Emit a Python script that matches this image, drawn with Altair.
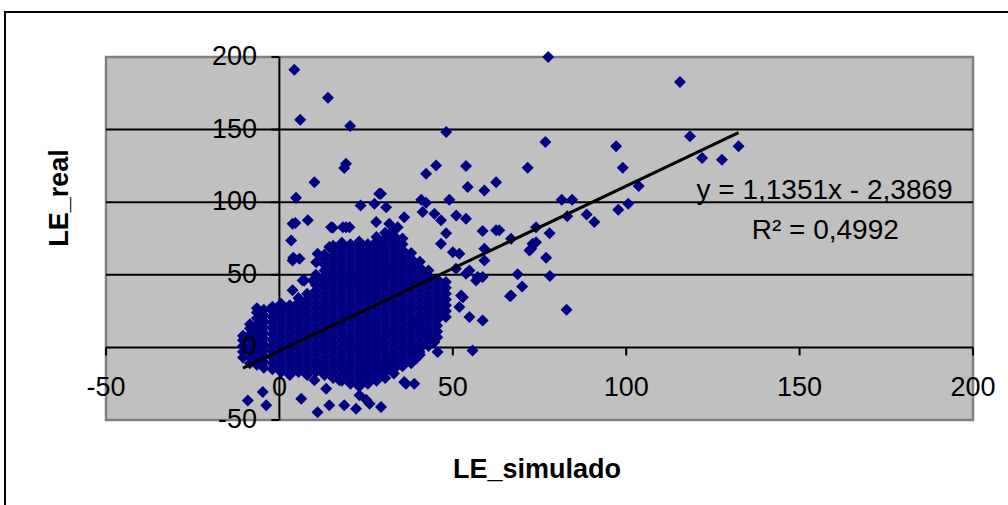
import altair as alt
import pandas as pd

# ---------------- data ----------------
# scattered points (outside the dense core)
outlier_x = [4.3, 14.0, 6.0, 20.4, 48.1, 77.5, 76.7, 19.2, 18.7, 10.1, 4.8, 42.3, 45.2, 53.8, 71.6,
             54.3, 59.1, 62.5, 49.0, 28.8, 30.8, 40.9, 42.3, 23.4, 27.4, 41.3, 44.7, 46.6, 51.0, 53.8,
             48.1, 58.6, 62.5, 4.6, 8.2, 15.4, 19.2, 27.9, 36.0, 34.1, 74.0,
             115.5, 118.4, 132.4, 121.9, 127.6, 97.1, 99.0, 103.6, 81.4, 84.4, 83.0, 88.6, 90.8, 97.7,
             100.6, 77.9, 66.8, 73.0, 72.1, 76.9, 68.7, 70.0, 78.0, 66.5, 82.8, 63.4,
             46.6, 50.0, 59.1, 59.1, 72.6, 74.0, 51.9, 54.8, 57.2, 58.6, 52.4, 52.9, 51.9, 47.6, 54.8,
             58.6, 44.7, 45.6, 55.7, 36.5, 38.9, 40.9, 39.4, 40.4, 39.4,
             -9.1, -3.8, -4.8, 6.3, 11.0, 10.1, 14.4, 18.7, 22.1, 26.0, 29.3, 23.1, 25.0, 13.5, 11.5,
             17.3, 36.0, 12.0, 18.7, 24.0, 27.9, 31.7,
             3.8, 5.8, 3.4, 3.8, 3.8, 6.7, 11.0, 10.6, 56.7, 53.8, 50.9, 66.8, 14.9, 18.3, 20.2, 29.3,
             31.7, 28.3, 9.6, 14.4, 4.0, 7.2]
outlier_y = [191.3, 172.0, 156.8, 152.4, 148.3, 200.0, 141.4, 126.5, 123.5, 113.8, 103.1, 119.6, 125.3, 124.9, 123.7,
             110.4, 108.1, 113.8, 101.7, 105.9, 96.6, 101.7, 99.6, 97.8, 99.0, 93.2, 92.1, 87.5, 90.9, 88.6,
             78.7, 80.1, 80.6, 85.6, 87.5, 82.4, 82.8, 86.3, 89.7, 82.8, 82.8,
             182.7, 145.5, 138.6, 130.4, 129.2, 138.6, 123.7, 111.1, 101.7, 101.7, 90.4, 91.6, 86.3, 94.8,
             99.0, 78.7, 74.9, 71.4, 66.8, 61.8, 50.3, 42.0, 49.1, 35.3, 26.0, 80.6,
             71.4, 65.6, 68.0, 59.9, 68.0, 72.5, 64.5, 53.0, 48.4, 48.4, 35.8, 34.6, 27.8, 24.3, 20.9,
             18.6, 3.7, -3.2, -2.1, -25.0, -25.0, 11.7, 16.3, -3.2, -7.8,
             -36.5, -39.9, -30.8, -35.3, -44.6, -22.7, -39.9, -39.9, -42.2, -38.8, -41.1, -33.0, -36.0, -28.4, -12.4,
             -22.7, -23.9, -13.8, -19.3, -16.0, -18.0, -13.0,
             59.9, 61.1, 73.7, 85.2, 39.3, 46.1, 64.5, 58.7, 46.1, 50.8, 54.2, 35.8, 82.8, 82.8, 82.8, 105.9,
             85.2, 72.5, 46.1, 69.1, 61.8, 46.1]

# dense core, read column by column (x of each column, y values in it)
cluster_x = [-10.5, -8.5, -6.5, -4.5, -2.0, 0.5, 3.0, 5.5, 8.0, 10.5, 13.0, 15.5, 18.0,
             20.5, 23.0, 25.5, 28.0, 30.5, 33.0, 35.5, 38.0, 40.5, 43.0, 45.5, 48.0]
cluster_y = [
    [-7, -3, 1, 5, 8],
    [-11, -7, -3, 1, 5, 9, 13, 16],
    [-12, -8, -4, 0, 4, 8, 12, 16, 20, 24, 27],
    [-14, -10, -6, -2, 2, 6, 10, 14, 18, 22, 26],
    [-15, -11, -7, -3, 1, 5, 9, 13, 17, 21, 25, 28],
    [-17, -13, -9, -5, -1, 3, 7, 11, 15, 19, 23, 27, 30],
    [-19, -15, -11, -7, -3, 1, 5, 9, 13, 17, 21, 25, 29],
    [-17, -13, -9, -5, -1, 3, 7, 11, 15, 19, 23, 27, 31, 34],
    [-19, -15, -11, -7, -3, 1, 5, 9, 13, 17, 21, 25, 29, 33, 37],
    [-17, -13, -9, -5, -1, 3, 7, 11, 15, 19, 23, 27, 31, 35, 39, 43, 47, 50],
    [-19, -15, -11, -7, -3, 1, 5, 9, 13, 17, 21, 25, 29, 33, 37, 41, 45, 49, 53, 57, 61, 64],
    [-21, -17, -13, -9, -5, -1, 3, 7, 11, 15, 19, 23, 27, 31, 35, 39, 43, 47, 51, 55, 59, 63, 67, 70],
    [-23, -19, -15, -11, -7, -3, 1, 5, 9, 13, 17, 21, 25, 29, 33, 37, 41, 45, 49, 53, 57, 61, 65, 69, 72],
    [-25, -21, -17, -13, -9, -5, -1, 3, 7, 11, 15, 19, 23, 27, 31, 35, 39, 43, 47, 51, 55, 59, 63, 67, 71],
    [-27, -23, -19, -15, -11, -7, -3, 1, 5, 9, 13, 17, 21, 25, 29, 33, 37, 41, 45, 49, 53, 57, 61, 65, 69, 73],
    [-25, -21, -17, -13, -9, -5, -1, 3, 7, 11, 15, 19, 23, 27, 31, 35, 39, 43, 47, 51, 55, 59, 63, 67, 71],
    [-23, -19, -15, -11, -7, -3, 1, 5, 9, 13, 17, 21, 25, 29, 33, 37, 41, 45, 49, 53, 57, 61, 65, 69, 73, 76],
    [-21, -17, -13, -9, -5, -1, 3, 7, 11, 15, 19, 23, 27, 31, 35, 39, 43, 47, 51, 55, 59, 63, 67, 71, 75, 79],
    [-18, -15, -11, -7, -3, 1, 5, 9, 13, 17, 21, 25, 29, 33, 37, 41, 45, 49, 53, 57, 61, 65, 69, 73, 77, 81],
    [-13, -9, -5, -1, 3, 7, 11, 15, 19, 23, 27, 31, 35, 39, 43, 47, 51, 55, 59, 63, 67, 71, 75],
    [-11, -7, -3, 1, 5, 9, 13, 17, 21, 25, 29, 33, 37, 41, 45, 49, 53, 57, 61, 65],
    [-5, -1, 3, 7, 11, 15, 19, 23, 27, 31, 35, 39, 43, 47, 51, 55, 59],
    [1, 5, 9, 13, 17, 21, 25, 29, 33, 37, 41, 45, 49, 53],
    [7, 11, 15, 19, 23, 27, 31, 35, 39, 43, 47],
    [21, 25, 29, 33, 37, 41, 45],
]

slope = 1.1351
intercept = -2.3869
eq_text = ["y = 1,1351x - 2,3869", "R² = 0,4992"]
eq_x = [157.2, 157.4]
eq_y = [108.0, 80.0]

tick_values = [-50, 0, 50, 100, 150, 200]
tick_labels = ["-50", "0", "50", "100", "150", "200"]
grid_values = [50, 100, 150]
axis_min, axis_max = -50, 200

x_title = "LE_simulado"
y_title = "LE_real"

# ---------------- tables ----------------
xs = list(outlier_x)
ys = list(outlier_y)
for cx, col in zip(cluster_x, cluster_y):
    for v in col:
        xs.append(cx)
        ys.append(v)
pts = pd.DataFrame({"x": xs, "y": ys})

xmin, xmax = min(xs), max(xs)
trend = pd.DataFrame({"x": [xmin, xmax],
                      "y": [slope * xmin + intercept, slope * xmax + intercept]})
ticks = pd.DataFrame({"v": tick_values, "lab": tick_labels,
                      "zero": [0] * len(tick_values),
                      "xt_end": [-5.5] * len(tick_values),   # 8 px below the x axis
                      "yt_end": [-2.3] * len(tick_values)})  # 8 px left of the y axis
grid = pd.DataFrame({"g": grid_values})
ann = pd.DataFrame({"x": eq_x, "y": eq_y, "t": eq_text})
axes_df = pd.DataFrame({"lo": [axis_min], "hi": [axis_max], "zero": [0]})
one = pd.DataFrame({"k": [0]})

FONT = "Liberation Sans"
W, H = 867, 363
xscale = alt.Scale(domain=[axis_min, axis_max], nice=False, zero=False)
yscale = alt.Scale(domain=[axis_min, axis_max], nice=False, zero=False)

grid_layer = alt.Chart(grid).mark_rule(color="black", strokeWidth=2).encode(
    y=alt.Y("g:Q", scale=yscale, axis=None)
)

# axis lines crossing at zero, with their tick marks
x_axis_line = alt.Chart(axes_df).mark_rule(color="black", strokeWidth=2).encode(
    x=alt.X("lo:Q", scale=xscale, axis=None), x2="hi:Q",
    y=alt.Y("zero:Q", scale=yscale, axis=None)
)
y_axis_line = alt.Chart(axes_df).mark_rule(color="black", strokeWidth=2).encode(
    y=alt.Y("lo:Q", scale=yscale, axis=None), y2="hi:Q",
    x=alt.X("zero:Q", scale=xscale, axis=None)
)
x_ticks = alt.Chart(ticks).mark_rule(color="black", strokeWidth=2).encode(
    x=alt.X("v:Q", scale=xscale, axis=None),
    y=alt.Y("zero:Q", scale=yscale, axis=None), y2="xt_end:Q"
)
y_ticks = alt.Chart(ticks).mark_rule(color="black", strokeWidth=2).encode(
    y=alt.Y("v:Q", scale=yscale, axis=None),
    x=alt.X("zero:Q", scale=xscale, axis=None), x2="yt_end:Q"
)

points = alt.Chart(pts).mark_point(
    shape="diamond", filled=True, size=144, color="#000080", opacity=1
).encode(
    x=alt.X("x:Q", scale=xscale, axis=None),
    y=alt.Y("y:Q", scale=yscale, axis=None),
)

trend_layer = alt.Chart(trend).mark_line(color="black", strokeWidth=3).encode(
    x=alt.X("x:Q", scale=xscale, axis=None),
    y=alt.Y("y:Q", scale=yscale, axis=None),
)

ylabels = alt.Chart(ticks).mark_text(
    align="right", baseline="middle", fontSize=27, font=FONT, color="black"
).encode(
    y=alt.Y("v:Q", scale=yscale, axis=None),
    x=alt.value(151),
    text="lab:N",
)

xlabels = alt.Chart(ticks).mark_text(
    align="center", baseline="middle", fontSize=27, font=FONT, color="black"
).encode(
    x=alt.X("v:Q", scale=xscale, axis=None),
    y=alt.value(331),
    text="lab:N",
)

ann_layer = alt.Chart(ann).mark_text(
    align="center", baseline="middle", fontSize=28, font=FONT, color="black"
).encode(
    x=alt.X("x:Q", scale=xscale, axis=None),
    y=alt.Y("y:Q", scale=yscale, axis=None),
    text="t:N",
)

xtitle = alt.Chart(pd.DataFrame({"t": [x_title]})).mark_text(
    align="center", baseline="middle", fontSize=27, font=FONT, fontWeight="bold", color="black"
).encode(x=alt.value(431), y=alt.value(413), text="t:N")

ytitle = alt.Chart(pd.DataFrame({"t": [y_title]})).mark_text(
    align="center", baseline="middle", fontSize=27, font=FONT, fontWeight="bold",
    color="black", angle=270
).encode(x=alt.value(-46), y=alt.value(141), text="t:N")

frame = alt.Chart(one).mark_rect(
    fillOpacity=0, stroke="black", strokeWidth=2
).encode(x=alt.value(-101), x2=alt.value(W + 80), y=alt.value(-45), y2=alt.value(H + 120))

chart = alt.layer(
    grid_layer, x_axis_line, y_axis_line, x_ticks, y_ticks, points, trend_layer,
    ylabels, xlabels, ann_layer, xtitle, ytitle, frame
).properties(
    width=W, height=H,
    background="white",
    autosize=alt.AutoSizeParams(type="none"),
    padding={"left": 106, "top": 57, "right": 35, "bottom": 85},
).configure_view(
    fill="#C0C0C0", stroke="#808080", strokeWidth=2.5
)

chart.save("out.html", embed_options={"renderer": "svg", "actions": False})
